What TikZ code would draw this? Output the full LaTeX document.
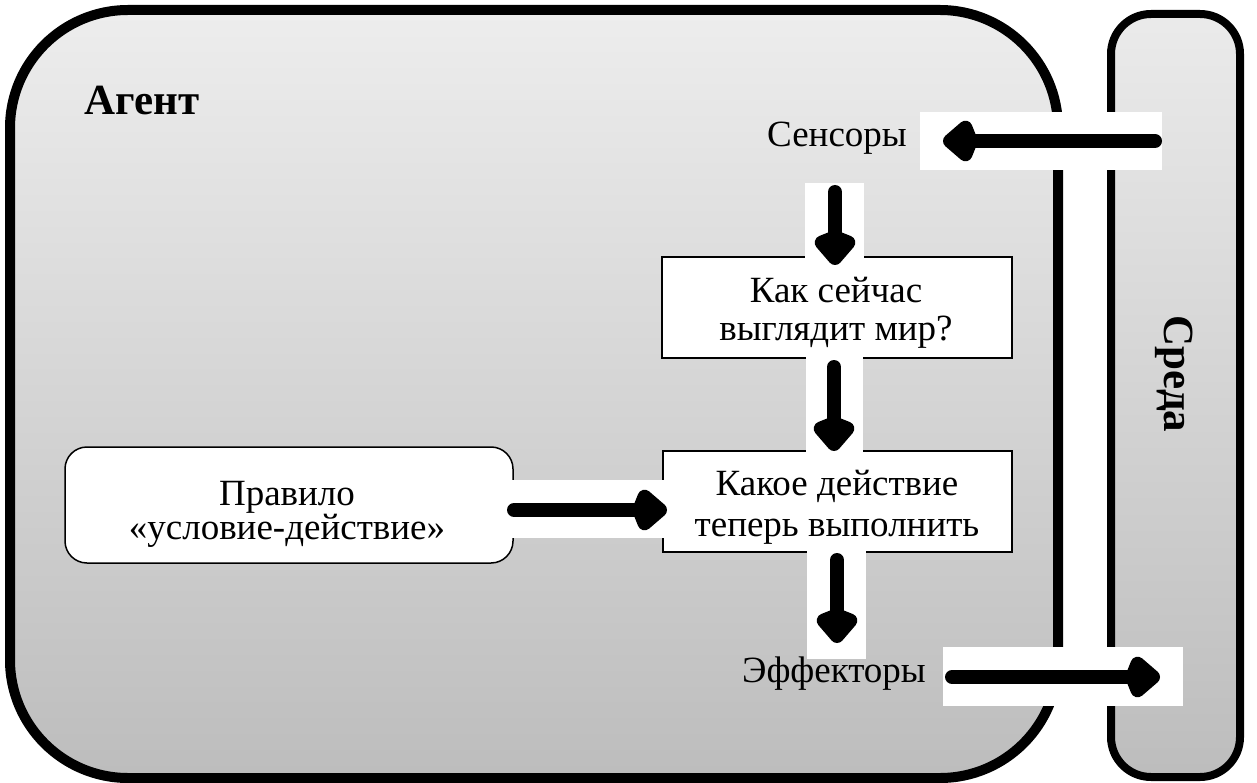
\documentclass[tikz,border=0pt]{standalone}
\usepackage{fontspec}
\setmainfont{Liberation Serif}
\usetikzlibrary{arrows.meta}

\tikzset{
  bigarrow/.style={line width=14pt, line cap=round,
    -{Kite[length=39pt,width=50pt,inset=10pt,round]}},
  band/.style={fill=white, draw=none},
  qbox/.style={draw=black, line width=1.5pt, fill=white, rectangle, inner sep=0pt},
  txt/.style={font=\fontsize{37}{40}\selectfont, inner sep=0pt, align=center},
  boldtxt/.style={font=\fontsize{43}{46}\selectfont\bfseries, inner sep=0pt},
}

\begin{document}
\begin{tikzpicture}[x=1pt, y=-1pt]
\useasboundingbox (0,0) rectangle (1257,783);

% agent body and environment strip
\draw[line width=10pt, rounded corners=118pt, top color=gray!14, bottom color=gray!52]
  (10,10) rectangle (1058,778);
\draw[line width=8pt, rounded corners=40pt, top color=gray!16, bottom color=gray!52]
  (1111,14) rectangle (1240,777);

\node[boldtxt, anchor=base west] (agent) at (84,115) {Агент};
\node[boldtxt, rotate=-90] (env) at (1174,374) {Среда};

% inner boxes
\node[qbox, minimum width=350pt, minimum height=101pt] (world) at (837,307.5) {};
\node[qbox, minimum width=349pt, minimum height=101pt] (act) at (837.5,501.5) {};
\node[qbox, rounded corners=22pt, minimum width=448pt, minimum height=116pt] (rule) at (289,505) {};

% box captions
\node[txt, font=\fontsize{37}{38}\selectfont] (worldtxt) at (836,312.5)
  {Как сейчас\\выглядит мир?};
\node[txt, font=\fontsize{37}{41}\selectfont] (acttxt) at (837,507)
  {Какое действие\\теперь выполнить};
\node[txt, font=\fontsize{37}{33}\selectfont] (ruletxt) at (287,514)
  {Правило\\«условие-действие»};

% white strips behind the arrows
\fill[band] (920,112) rectangle (1162,170);
\fill[band] (805,183) rectangle (864,258.5);
\fill[band] (806,357) rectangle (863,452.5);
\fill[band] (807,551) rectangle (866,659);
\fill[band] (943,647) rectangle (1183,706);
\fill[band] (512,480) rectangle (663.5,538);

\node[txt, anchor=base] (sens) at (837,147) {Сенсоры};
\node[txt, anchor=base] (eff) at (834,682) {Эффекторы};

% arrow end points
\coordinate (s0) at (1155,141);
\coordinate (s1) at (943,141);
\coordinate (a0) at (835,192);
\coordinate (a1) at (835,265);
\coordinate (b0) at (834,367);
\coordinate (b1) at (834,451);
\coordinate (c0) at (837,560);
\coordinate (c1) at (837,643);
\coordinate (e0) at (952,677);
\coordinate (e1) at (1160,677);
\coordinate (r0) at (514,510);
\coordinate (r1) at (667,510);

\draw[bigarrow] (s0) -- (s1);
\draw[bigarrow] (a0) -- (a1);
\draw[bigarrow] (b0) -- (b1);
\draw[bigarrow] (c0) -- (c1);
\draw[bigarrow] (e0) -- (e1);
\draw[bigarrow] (r0) -- (r1);
\end{tikzpicture}
\end{document}
